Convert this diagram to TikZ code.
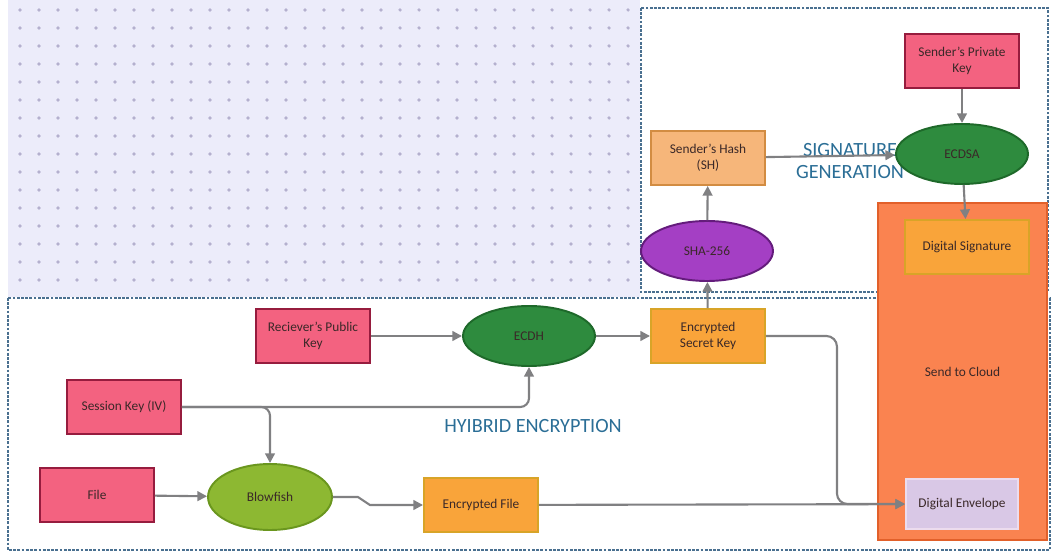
\documentclass[tikz,border=0pt]{standalone}
\usepackage{fontspec}
\setmainfont{Carlito}
\usepackage{tikz}
\usetikzlibrary{shapes.geometric,arrows.meta,positioning,calc}
\definecolor{pinkfill}{RGB}{243,98,128}
\definecolor{pinkline}{RGB}{150,28,62}
\definecolor{greenfill}{RGB}{46,139,62}
\definecolor{greenline}{RGB}{30,105,42}
\definecolor{purplefill}{RGB}{164,63,196}
\definecolor{purpleline}{RGB}{100,28,124}
\definecolor{limefill}{RGB}{141,184,50}
\definecolor{limeline}{RGB}{106,150,30}
\definecolor{peachfill}{RGB}{246,182,122}
\definecolor{peachline}{RGB}{210,140,66}
\definecolor{orangefill}{RGB}{249,164,58}
\definecolor{orangeline}{RGB}{216,164,40}
\definecolor{cloudfill}{RGB}{250,131,80}
\definecolor{cloudline}{RGB}{226,96,42}
\definecolor{envfill}{RGB}{217,200,230}
\definecolor{envline}{RGB}{236,220,238}
\definecolor{txtc}{RGB}{58,40,40}
\definecolor{lblc}{RGB}{43,110,150}
\definecolor{framec}{RGB}{74,112,144}
\definecolor{arrowc}{RGB}{128,128,130}
\definecolor{gridfill}{RGB}{236,236,250}
\definecolor{gridDot}{RGB}{180,176,206}

\begin{document}
\begin{tikzpicture}[x=0.02cm,y=-0.02cm,
  box/.style={rectangle,draw,line width=1.1pt,minimum width=2.28cm,
              minimum height=1.08cm,align=center,text=txtc,
              font=\fontsize{7.6}{9}\selectfont},
  ell/.style={ellipse,draw,line width=1.1pt,minimum width=2.64cm,
              minimum height=1.2cm,text=txtc,font=\fontsize{7.6}{9}\selectfont},
  keybox/.style={box,fill=pinkfill,draw=pinkline},
  databox/.style={box,fill=orangefill,draw=orangeline},
  arrow/.style={-{Triangle[length=5.5pt,width=5.5pt]},draw=arrowc,
                line width=1.2pt},
  frame/.style={draw=framec,line width=1pt,dash pattern=on 1.6pt off 0.8pt},
  grouplbl/.style={text=lblc,font=\fontsize{11.5}{13}\selectfont,align=center}
]
\useasboundingbox (0,0) rectangle (1052,557);

% dotted canvas top left
\fill[gridfill] (8,0) rectangle (640,297);
\foreach \x in {20,39,...,630}
  \foreach \y in {10,28,...,290}
    \fill[gridDot] (\x,\y) circle (1pt);

% group frames
\draw[frame] (641,8) rectangle (1048,292);
\draw[frame] (8,298) rectangle (1050,550);

% signature generation
\node[grouplbl] (siglbl) at (850,161) {SIGNATURE\\GENERATION};
\node[keybox] (pkey) at (962,61) {Sender's Private\\Key};
\node[ell,fill=greenfill,draw=greenline] (ecdsa) at (962,154) {ECDSA};
\node[box,fill=peachfill,draw=peachline] (hash) at (708,158) {Sender's Hash\\(SH)};
\node[ell,fill=purplefill,draw=purpleline] (sha) at (707,251) {SHA-256};

% cloud
\node[rectangle,draw=cloudline,fill=cloudfill,line width=1.1pt,
      minimum width=3.38cm,minimum height=6.74cm,text=txtc,
      font=\fontsize{7.6}{9}\selectfont] (cloud) at (962.5,371.5) {Send to Cloud};
\node[databox,minimum width=2.48cm] (dsig) at (967,247) {Digital Signature};
\node[box,fill=envfill,draw=envline,minimum width=2.24cm,minimum height=1cm] (denv) at (962,504) {Digital Envelope};

% hybrid encryption
\node[grouplbl] (hyblbl) at (533,426) {HYIBRID ENCRYPTION};
\node[keybox] (rpk) at (313,336) {Reciever's Public\\Key};
\node[ell,fill=greenfill,draw=greenline] (ecdh) at (529,336) {ECDH};
\node[databox] (esk) at (708,336) {Encrypted\\Secret Key};
\node[keybox] (skey) at (124,407) {Session Key (IV)};
\node[keybox] (file) at (97,495) {File};
\node[ell,fill=limefill,draw=limeline,minimum width=2.48cm,minimum height=1.32cm] (blow) at (270,497) {Blowfish};
\node[databox] (efile) at (481,505) {Encrypted File};

\coordinate (split) at (270,407);

\draw[arrow] (pkey) -- (ecdsa);
\draw[arrow] (hash) -- (ecdsa);
\draw[arrow] (ecdsa) -- (dsig);
\draw[arrow] (sha) -- (hash);
\draw[arrow] (esk) -- (sha);
\draw[arrow] (rpk) -- (ecdh);
\draw[arrow] (ecdh) -- (esk);
\draw[arrow,rounded corners=5pt] (skey.east) -| (ecdh.south);
\draw[arrow,rounded corners=5pt] (skey.east) -- (split) -- (blow.north);
\draw[arrow] (file) -- (blow);
\draw[arrow] (blow.east) -- ++(25,0) -- ++(12,8) -- (efile.west);
\draw[arrow] (efile) -- (denv);
\draw[arrow,rounded corners=6pt] (esk.east) -- ++(71,0) |- (denv.west);
\end{tikzpicture}
\end{document}
